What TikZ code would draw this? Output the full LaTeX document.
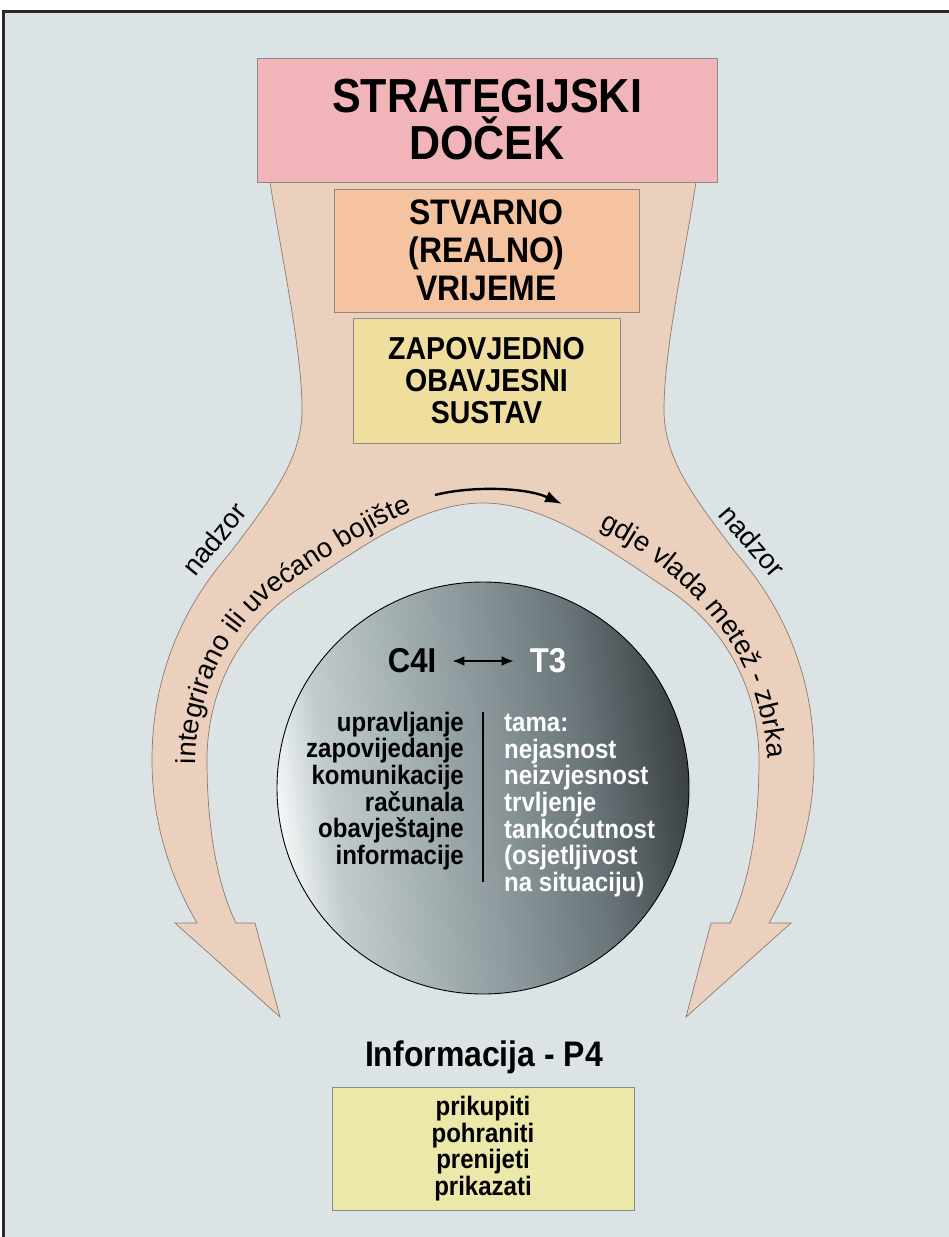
\documentclass[tikz,border=0pt]{standalone}
\usepackage{fontspec}
\setmainfont{Liberation Sans}
\newfontfamily\condfont[FakeStretch=0.9]{Liberation Sans}
\usetikzlibrary{arrows.meta,decorations.text}
\definecolor{bgc}{HTML}{DCE3E5}
\definecolor{framec}{HTML}{2A2A2A}
\definecolor{peach}{HTML}{ECD0BE}
\definecolor{peachline}{HTML}{8C7B70}
\definecolor{pinkc}{HTML}{F0B4B9}
\definecolor{orangec}{HTML}{F5C3A0}
\definecolor{yellowc}{HTML}{F0DE9E}
\definecolor{paleyc}{HTML}{ECE8A9}
\definecolor{boxline}{HTML}{8A8A8A}
\definecolor{orbA}{HTML}{F4F7F7}
\definecolor{orbB}{HTML}{C2CCCE}
\definecolor{orbC}{HTML}{8E9A9D}
\definecolor{orbD}{HTML}{6A7579}
\definecolor{orbE}{HTML}{3A4043}
\pgfdeclarehorizontalshading{orbshade}{100bp}{color(0bp)=(orbA); color(25bp)=(orbA); color(31bp)=(orbB); color(50bp)=(orbC); color(63bp)=(orbD); color(75bp)=(orbE); color(100bp)=(orbE)}
\newcommand{\fsz}[2]{\condfont\fontsize{#1}{#2}\selectfont\bfseries}
\newcommand{\bandfont}{\fontsize{27.5}{31}\selectfont}
\tikzset{
  plainbox/.style={draw=boxline, line width=0.8pt, inner sep=0pt, align=center, text=black},
  band/.style={fill=peach, draw=peachline, line width=0.7pt},
  listtext/.style={font=\fsz{26.7}{26.7}, inner sep=0pt},
  bandlabel/.style={font=\bandfont, inner sep=0pt},
  flowarrow/.style={line width=2.4pt, -{Latex[length=17pt,width=12pt]}},
  dblarrow/.style={line width=2.2pt, {Latex[length=12pt,width=10pt]}-{Latex[length=12pt,width=10pt]}},
}
\begin{document}
\begin{tikzpicture}[x=1pt,y=-1pt]
\useasboundingbox (0,0) rectangle (949,1237);
% background and frame
\fill[white] (0,0) rectangle (949,1237);
\fill[bgc] (3.5,11.5) rectangle (949,1237);
\draw[framec, line width=2.5pt] (3.5,1237) -- (3.5,11.5) -- (949,11.5);
% peach band
\draw[band] (270,182) .. controls (282,260) and (302,350) .. (302,410)
 .. controls (302,460) and (270,500) .. (230,553)
 .. controls (180,610) and (152,680) .. (152,760)
 .. controls (152,830) and (175,885) .. (197,923)
 -- (175,923) -- (280,1017) -- (255,923) -- (236,923)
 .. controls (215,880) and (207,820) .. (207,760)
 .. controls (207,690) and (240,628) .. (297,590)
 .. controls (360,548) and (420,503) .. (483,503)
 .. controls (546,503) and (606,548) .. (669,590)
 .. controls (726,628) and (759,690) .. (759,760)
 .. controls (759,820) and (751,880) .. (730,923)
 -- (711,923) -- (686,1017) -- (791,923) -- (769,923)
 .. controls (791,885) and (814,830) .. (814,760)
 .. controls (814,680) and (786,610) .. (736,553)
 .. controls (696,500) and (664,460) .. (664,410)
 .. controls (664,350) and (684,260) .. (696,182) -- cycle;
% boxes
\node[plainbox, fill=pinkc, minimum width=460pt, minimum height=124pt, font=\fsz{47.8}{47}] (strat) at (487,120) {STRATEGIJSKI\\DOČEK};
\node[plainbox, fill=orangec, minimum width=305pt, minimum height=123pt, font=\fsz{35.5}{38}] (real) at (486.5,250.5) {STVARNO\\(REALNO)\\VRIJEME};
\node[plainbox, fill=yellowc, minimum width=267pt, minimum height=125pt, font=\fsz{31.7}{32}] (zap) at (486.5,380.5) {ZAPOVJEDNO\\OBAVJESNI\\SUSTAV};
% band texts
\path[postaction={decorate}, decoration={text along path, text align=left,
  text={|\bandfont|integrirano ili uvećano bojište}}]
  (196,764) .. controls (196,690) and (231,621) .. (290,582)
  .. controls (352,541) and (415,499) .. (483,492);
\path[postaction={decorate}, decoration={text along path, text align=left,
  text={|\bandfont|gdje vlada metež - zbrka}}]
  (599,528) .. controls (661,558) and (717,610) .. (743,664)
  .. controls (762,704) and (769,740) .. (769,800);
\node[bandlabel, rotate=51] (nadL) at (214,539) {nadzor};
\node[bandlabel, rotate=-49] (nadR) at (752,541) {nadzor};
% flow arrow
\coordinate (flowS) at (435,495);
\coordinate (flowE) at (562,504);
\draw[flowarrow] (flowS) .. controls (470,486) and (525,487) .. (flowE);
% orb
\node[circle, draw=black, line width=0.9pt, shading=orbshade, shading angle=8, minimum size=412pt, inner sep=0pt] (orb) at (483,788) {};
\node[font=\fsz{34.5}{34}, inner sep=0pt, text=black] (c4i) at (412,661) {C4I};
\node[font=\fsz{34.5}{34}, inner sep=0pt, text=white] (t3) at (548,661) {T3};
\draw[dblarrow, shorten <=16pt, shorten >=16pt] (c4i.east) -- (t3.west);
\coordinate (divT) at (483,712);
\coordinate (divB) at (483,882);
\draw[line width=2pt, black] (divT) -- (divB);
\node[listtext, anchor=east, align=right, text=black] (c4list) at (464,791) {upravljanje\\zapovijedanje\\komunikacije\\računala\\obavještajne\\informacije};
\node[listtext, anchor=west, align=left, text=white] (t3list) at (504,805.5) {tama:\\nejasnost\\neizvjesnost\\trvljenje\\tankoćutnost\\(osjetljivost\\na situaciju)};
% bottom
\node[font=\fsz{35.5}{36}, inner sep=0pt] (info) at (484,1057) {Informacija - P4};
\node[plainbox, fill=paleyc, minimum width=302pt, minimum height=123pt, font=\fsz{26.7}{26.5}] (p4) at (483,1148.5) {prikupiti\\pohraniti\\prenijeti\\prikazati};
\end{tikzpicture}
\end{document}
